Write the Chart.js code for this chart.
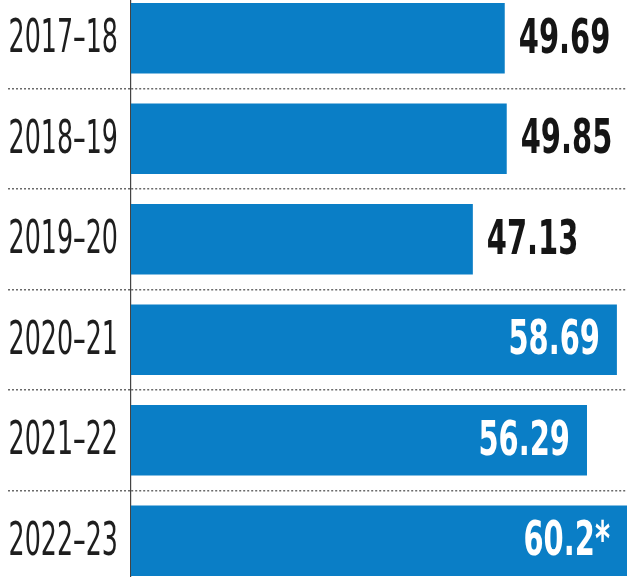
<!DOCTYPE html>
<html><head><meta charset="utf-8">
<script src="https://cdn.jsdelivr.net/npm/chart.js@4"></script>
<style>
html,body{margin:0;padding:0;background:#fff;overflow:hidden;width:627px;height:577px}
#wrap{position:absolute;left:0;top:-12px;width:627px;height:603px}
</style>
</head><body>
<div id="wrap"><canvas id="c"></canvas></div>
<script>
const categories = ['2017–18', '2018–19', '2019–20', '2020–21', '2021–22', '2022–23'];
const values = [49.69, 49.85, 47.13, 58.69, 56.29, 60.2];
const valueLabels = ['49.69', '49.85', '47.13', '58.69', '56.29', '60.2*'];

const FONT = '"DejaVu Sans Condensed", "DejaVu Sans", sans-serif';
const BAR = '#0a7ec6';

function condensedText(ctx, text, x, y, align, sx) {
  ctx.save();
  ctx.translate(x, y);
  ctx.scale(sx, 1);
  ctx.textAlign = align;
  ctx.fillText(text, 0, 0);
  ctx.restore();
}

const labelPlugin = {
  id: 'labels',
  afterDatasetsDraw(chart) {
    const ctx = chart.ctx;
    const meta = chart.getDatasetMeta(0);
    const area = chart.chartArea;
    const yScale = chart.scales.y;
    ctx.save();
    ctx.textBaseline = 'middle';
    // category labels
    ctx.font = '47px ' + FONT;
    ctx.fillStyle = '#1e1e1e';
    chart.data.labels.forEach((lab, i) => {
      const y = yScale.getPixelForTick(i);
      condensedText(ctx, lab, yScale.right - 13, y + 2, 'right', 0.6);
    });
    // value labels
    ctx.font = 'bold 48px ' + FONT;
    meta.data.forEach((bar, i) => {
      const end = Math.min(bar.x, area.right);
      const inside = (end - area.left) > 410;
      if (inside) {
        ctx.fillStyle = '#ffffff';
        condensedText(ctx, valueLabels[i], end - 17, bar.y + 2, 'right', 0.67);
      } else {
        ctx.fillStyle = '#151515';
        condensedText(ctx, valueLabels[i], end + 14, bar.y + 2, 'left', 0.67);
      }
    });
    ctx.restore();
  }
};

new Chart(document.getElementById('c'), {
  type: 'bar',
  data: {
    labels: categories,
    datasets: [{
      data: values,
      backgroundColor: BAR,
      borderWidth: 0,
      barPercentage: 0.7,
      categoryPercentage: 1.0
    }]
  },
  options: {
    indexAxis: 'y',
    responsive: true,
    maintainAspectRatio: false,
    animation: false,
    layout: { padding: 0 },
    plugins: { legend: { display: false }, tooltip: { enabled: false } },
    scales: {
      x: { type: 'linear', min: 19.7, max: 59.5, display: false },
      y: {
        type: 'category',
        offset: true,
        afterFit(scale) { scale.width = 131; },
        grid: {
          display: true,
          offset: true,
          color: '#6a6a6a',
          lineWidth: 1.5,
          drawTicks: true,
          tickLength: 123,
          tickColor: '#6a6a6a',
          tickWidth: 1.5,
          tickBorderDash: [2, 2]
        },
        border: { display: true, color: '#444', width: 1.2, dash: [2, 2] },
        ticks: { display: false }
      }
    }
  },
  plugins: [labelPlugin]
});
</script>
</body></html>
